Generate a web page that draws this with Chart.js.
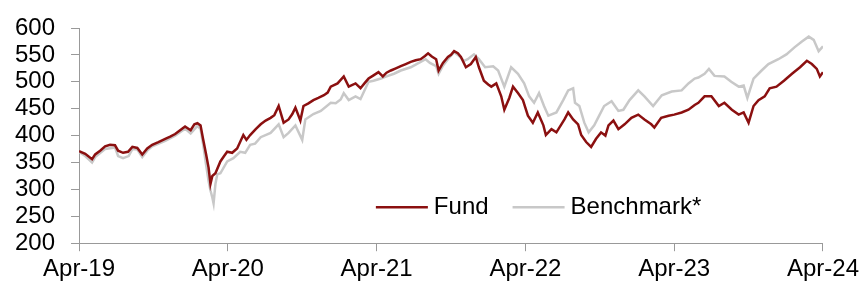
<!DOCTYPE html>
<html>
<head>
<meta charset="utf-8">
<script src="https://cdn.jsdelivr.net/npm/chart.js@4.4.1/dist/chart.umd.min.js"></script>
<style>
  html, body { margin: 0; padding: 0; background: #fff; }
</style>
</head>
<body>
<canvas id="chart" width="863" height="288"></canvas>
<script>
// months since Apr-19, index value
const tickLabels = ['Apr-19', 'Apr-20', 'Apr-21', 'Apr-22', 'Apr-23', 'Apr-24'];

const fundSeries = [
  [0,371],[0.5,366],[1.05,356],[1.3,365],[1.7,372],[2.1,380],[2.5,383],[2.9,382],[3.15,372],[3.55,368],
  [3.95,370],[4.3,379],[4.7,377],[5.1,365],[5.5,376],[5.9,383],[6.4,388],[6.95,394],[7.35,398],[7.75,403],
  [8.15,410],[8.55,417],[9.0,410],[9.3,421],[9.55,423],[9.8,419],[10.0,394],[10.25,365],[10.45,340],[10.6,310],
  [10.75,325],[11.0,330],[11.4,352],[11.7,362],[11.95,370],[12.35,368],[12.75,376],[13.25,401],[13.5,392],[13.8,401],
  [14.25,412],[14.65,421],[15.05,428],[15.45,433],[15.75,438],[16.1,455],[16.5,424],[16.9,430],[17.2,440],[17.45,452],
  [17.85,428],[18.1,455],[18.5,460],[18.9,466],[19.3,470],[19.75,475],[20.05,480],[20.3,491],[20.85,497],[21.35,510],
  [21.75,491],[22.3,497],[22.7,488],[23.05,498],[23.35,506],[23.75,512],[24.15,518],[24.5,510],[24.8,517],[25.15,521],
  [25.55,525],[25.95,529],[26.35,533],[26.75,537],[27.15,540],[27.55,542],[27.9,548],[28.15,553],[28.45,547],[28.8,542],
  [29.0,521],[29.35,535],[29.75,546],[30.0,550],[30.25,557],[30.55,553],[30.8,546],[31.2,527],[31.6,533],[32.0,546],
  [32.25,527],[32.65,502],[33.0,495],[33.25,491],[33.65,497],[34.05,473],[34.3,448],[34.7,470],[35.0,491],[35.4,479],
  [35.8,466],[36.2,437],[36.6,424],[37.0,443],[37.45,419],[37.65,401],[38.1,412],[38.5,406],[38.9,421],[39.15,430],
  [39.45,443],[39.85,430],[40.25,421],[40.5,401],[40.9,388],[41.3,379],[41.7,394],[42.1,406],[42.45,400],[42.7,419],
  [43.1,428],[43.5,412],[44.0,421],[44.55,433],[45.1,439],[45.6,430],[46.15,421],[46.4,415],[46.95,433],[47.55,437],
  [48.0,439],[48.6,443],[49.15,448],[49.65,457],[49.95,461],[50.45,473],[51.0,473],[51.6,455],[52.05,461],[52.65,448],
  [53.2,439],[53.6,443],[54.0,424],[54.4,455],[54.8,466],[55.3,473],[55.7,488],[56.25,491],[56.85,502],[57.5,515],
  [58.15,527],[58.7,539],[59.1,533],[59.5,524],[59.75,510],[60,518]
];

const benchSeries = [
  [0,370],[0.5,362],[1.05,350],[1.3,360],[2.1,375],[2.9,378],[3.15,362],[3.55,358],[4.0,362],[4.3,375],
  [4.7,374],[5.1,360],[5.5,372],[5.9,380],[6.95,390],[7.75,400],[8.55,413],[9.0,404],[9.55,418],[9.8,412],
  [10.0,385],[10.25,345],[10.45,315],[10.6,298],[10.75,285],[10.85,274],[11.0,310],[11.15,328],[11.4,330],[11.95,352],
  [12.45,358],[13.0,370],[13.4,368],[13.8,383],[14.2,385],[14.65,397],[15.45,405],[16.1,421],[16.5,397],[16.9,405],
  [17.45,419],[18.0,392],[18.25,430],[18.9,440],[19.5,446],[20.3,461],[20.7,460],[21.1,467],[21.35,479],[21.75,466],
  [22.3,473],[22.7,468],[23.35,500],[23.75,502],[24.35,506],[24.8,510],[25.4,515],[25.95,521],[26.75,527],[27.15,532],
  [27.55,537],[27.95,542],[28.3,535],[28.8,529],[29.0,515],[29.35,530],[29.75,542],[30.25,555],[30.55,550],[31.05,539],
  [31.35,542],[31.85,551],[32.25,542],[32.75,527],[33.4,529],[33.8,521],[34.3,491],[34.85,527],[35.4,515],[35.9,497],
  [36.3,473],[36.7,461],[37.1,479],[37.5,455],[37.85,437],[38.5,443],[39.05,466],[39.45,484],[39.85,488],[40.0,461],
  [40.35,455],[40.75,424],[41.1,406],[41.55,419],[41.95,437],[42.35,455],[42.95,464],[43.5,446],[43.9,448],[44.4,466],
  [45.1,484],[45.6,473],[46.3,455],[47.0,475],[47.8,482],[48.6,484],[49.15,497],[49.65,506],[49.95,508],[50.45,515],
  [50.8,524],[51.25,511],[52.05,510],[52.6,500],[53.2,491],[53.6,493],[53.9,470],[54.4,506],[55.05,521],[55.6,533],
  [56.4,542],[57.05,551],[57.7,564],[58.3,575],[58.85,584],[59.25,578],[59.65,557],[60,566]
];

const seriesNames = ['Fund', 'Benchmark*'];
const seriesColors = ['#8b1010', '#c8c8c8'];

const FONT = 'Liberation Sans, Arial, sans-serif';

// legend sits inside the plot, near the bottom
const insideLegend = {
  id: 'insideLegend',
  afterDatasetsDraw(chart) {
    const { ctx, chartArea } = chart;
    const w = chartArea.right - chartArea.left;
    const h = chartArea.bottom - chartArea.top;
    let x = chartArea.left + w * 0.399;
    const y = chartArea.top + h * 0.833;
    ctx.save();
    ctx.font = '24px ' + FONT;
    ctx.textBaseline = 'middle';
    chart.data.datasets.forEach((ds) => {
      ctx.strokeStyle = ds.borderColor;
      ctx.lineWidth = 2.5;
      ctx.beginPath();
      ctx.moveTo(x, y);
      ctx.lineTo(x + 52, y);
      ctx.stroke();
      x += 58;
      ctx.fillStyle = '#000';
      ctx.fillText(ds.label, x, y);
      x += ctx.measureText(ds.label).width + 24;
    });
    ctx.restore();
  }
};

const toPoints = (s) => s.map(([m, v]) => ({ x: m, y: v }));

new Chart(document.getElementById('chart'), {
  type: 'line',
  data: {
    datasets: [
      {
        label: seriesNames[0],
        data: toPoints(fundSeries),
        borderColor: seriesColors[0],
        borderWidth: 2.5,
        pointRadius: 0,
        tension: 0,
      },
      {
        label: seriesNames[1],
        data: toPoints(benchSeries),
        borderColor: seriesColors[1],
        borderWidth: 2.5,
        pointRadius: 0,
        tension: 0,
      },
    ],
  },
  options: {
    responsive: false,
    animation: false,
    layout: { padding: { left: -1, top: -8, right: 3, bottom: 0 } },
    plugins: {
      legend: { display: false },
      tooltip: { enabled: false },
    },
    scales: {
      x: {
        type: 'linear',
        min: 0,
        max: 60,
        grid: { drawOnChartArea: false, drawTicks: true, tickLength: 8, color: '#999' },
        border: { color: '#999', width: 1 },
        ticks: {
          stepSize: 12,
          autoSkip: false,
          maxRotation: 0,
          padding: 4,
          color: '#000',
          font: { family: FONT, size: 24 },
          callback: (v) => tickLabels[v / 12],
        },
      },
      y: {
        min: 200,
        max: 600,
        grid: { drawOnChartArea: false, drawTicks: true, tickLength: 8, color: '#999' },
        border: { color: '#999', width: 1 },
        ticks: {
          stepSize: 50,
          autoSkip: false,
          padding: 16,
          color: '#000',
          font: { family: FONT, size: 24, lineHeight: 1 },
        },
      },
    },
  },
  plugins: [insideLegend],
});
</script>
</body>
</html>
